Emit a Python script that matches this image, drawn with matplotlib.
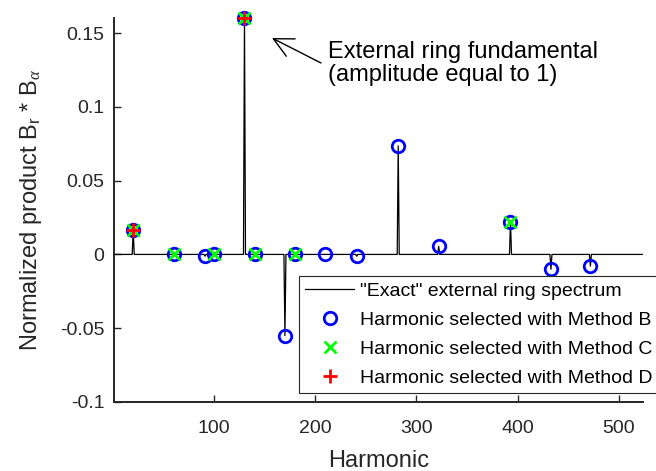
import numpy as np
import matplotlib
matplotlib.use("Agg")
import matplotlib.pyplot as plt

plt.rcParams['font.family'] = ['Liberation Sans', 'DejaVu Sans']
plt.rcParams['axes.unicode_minus'] = False
plt.rcParams['mathtext.fontset'] = 'custom'
plt.rcParams['mathtext.rm'] = 'Liberation Sans'
plt.rcParams['mathtext.it'] = 'Liberation Serif:italic'

# "Exact" external ring spectrum: non-zero harmonics and their values
exact_harm = [20, 91, 130, 170, 241, 282, 322, 393, 433, 472]
exact_vals = [0.0168, -0.0012, 0.1605, -0.055, -0.0012, 0.0735, 0.0055, 0.0222, -0.0101, -0.0079]
harm_max = 524

# Harmonics selected by each method
methB_harm = [20, 60, 91, 100, 130, 140, 170, 180, 210, 241, 282, 322, 393, 433, 472]
methB_vals = [0.0168, 0.0, -0.0012, 0.0, 0.1605, 0.0, -0.055, 0.0, 0.0, -0.0012, 0.0735, 0.0055, 0.0222, -0.0101, -0.0079]
methC_harm = [20, 60, 100, 130, 140, 180, 393]
methC_vals = [0.0168, 0.0, 0.0, 0.1605, 0.0, 0.0, 0.0222]
methD_harm = [20, 130]
methD_vals = [0.0168, 0.1605]

xticks = [100, 200, 300, 400, 500]
yticks = [-0.1, -0.05, 0, 0.05, 0.1, 0.15]
ytick_labels = ['-0.1', '-0.05', '0', '0.05', '0.1', '0.15']

# Build full spectrum from the listed components
h = np.arange(1, harm_max + 1)
spec = np.zeros_like(h, dtype=float)
for k, v in zip(exact_harm, exact_vals):
    spec[k - 1] = v

W, H = 656, 471
fig = plt.figure(figsize=(W / 100, H / 100), dpi=100)
ax = fig.add_axes([114 / W, 1 - 402 / H, (643 - 114) / W, (402 - 18) / H])

axcol = (0.15, 0.15, 0.15)
ax.plot(h, spec, color='k', lw=0.9, label='"Exact" external ring spectrum')
ax.plot(methB_harm, methB_vals, 'o', ms=9, mfc='none', mec=(0, 0, 1), mew=2.0,
        clip_on=False, label='Harmonic selected with Method B')
ax.plot(methC_harm, methC_vals, 'x', ms=8, mec=(0, 1, 0), mew=2.0,
        clip_on=False, label='Harmonic selected with Method C')
ax.plot(methD_harm, methD_vals, '+', ms=10, mec=(1, 0, 0), mew=2.0,
        clip_on=False, label='Harmonic selected with Method D')

ax.set_xlim(1, harm_max)
ax.set_ylim(-0.1, 0.1602)
ax.set_xticks(xticks)
ax.set_yticks(yticks)
ax.set_yticklabels(ytick_labels)
for s in ['top', 'right']:
    ax.spines[s].set_visible(False)
for s in ['left', 'bottom']:
    ax.spines[s].set_color(axcol)
    ax.spines[s].set_linewidth(1.4)
ax.tick_params(direction='in', length=5, width=1.0, colors=axcol, labelsize=14)
ax.tick_params(axis='y', pad=7)
ax.tick_params(axis='x', pad=13)

ax.set_xlabel('Harmonic', fontsize=17, color=axcol, labelpad=9.5)
ax.set_ylabel(r'Normalized product B$_{\mathrm{r}}$ * B$_{\alpha}$', fontsize=17,
              color=axcol, labelpad=11)

fig.text(328 / W, 1 - 41 / H, 'External ring fundamental\n(amplitude equal to 1)',
         ha='left', va='top', fontsize=17, color='k', linespacing=1.05)
fig.add_artist(plt.Annotation('', xy=(272 / W, 1 - 38 / H), xycoords='figure fraction',
                              xytext=(321 / W, 1 - 63 / H), textcoords='figure fraction',
                              arrowprops=dict(arrowstyle='->,head_length=0.7,head_width=0.35',
                                              color='k', lw=1.0, mutation_scale=20,
                                              shrinkA=0, shrinkB=0)))

leg = ax.legend(loc='upper left', bbox_to_anchor=(299 / W, 1 - 276 / H),
                bbox_transform=fig.transFigure, fontsize=14, frameon=True,
                fancybox=False, framealpha=1, edgecolor=(0.15, 0.15, 0.15),
                borderpad=0.33, labelspacing=0.58, handlelength=2.5,
                handletextpad=0.33, borderaxespad=0)
leg.get_frame().set_linewidth(0.8)

fig.savefig('out.png', dpi=100)
